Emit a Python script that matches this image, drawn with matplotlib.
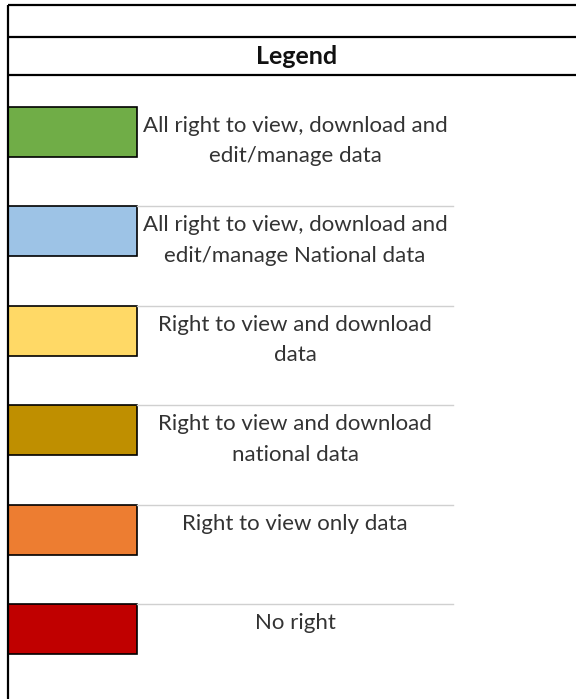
import matplotlib
matplotlib.use("Agg")
from matplotlib import pyplot as plt
from matplotlib.patches import Rectangle

labels = [
    "All right to view, download and\nedit/manage data",
    "All right to view, download and\nedit/manage National data",
    "Right to view and download\ndata",
    "Right to view and download\nnational data",
    "Right to view only data",
    "No right",
]
colors = ["#70AD47", "#9DC3E6", "#FFD966", "#BF8F00", "#ED7D31", "#C00000"]
title = "Legend"

W, H = 576, 699

def main():
    fig = plt.figure(figsize=(W / 100, H / 100), dpi=100, facecolor="white")
    ax = fig.add_axes([0, 0, 1, 1])
    ax.set_xlim(0, W)
    ax.set_ylim(H, 0)
    ax.axis("off")

    # sheet borders
    ax.plot([8, 8], [5, H], color="black", lw=1.6, solid_capstyle="butt")
    for y in [5, 37, 75]:
        ax.plot([8, W], [y, y], color="black", lw=1.6, solid_capstyle="butt")
    ax.text(297, 57, title, ha="center", va="center", fontsize=18,
            fontweight="bold", family="Lato", color="#111111")

    top0, step, h = 107, 99.4, 50
    for i, (lab, col) in enumerate(zip(labels, colors)):
        top = top0 + i * step
        ax.add_patch(Rectangle((8, top), 129, h, facecolor=col,
                               edgecolor="black", lw=1.2))
        if i > 0:
            ax.plot([137, 453], [top, top], color="#d0d0d0", lw=1)
        ax.text(295, top + 9, lab, ha="center", va="top", fontsize=16,
                family="Lato", color="#333333", linespacing=1.65)

    fig.savefig("out.png", dpi=100, facecolor=fig.get_facecolor())


if __name__ == "__main__":
    main()
